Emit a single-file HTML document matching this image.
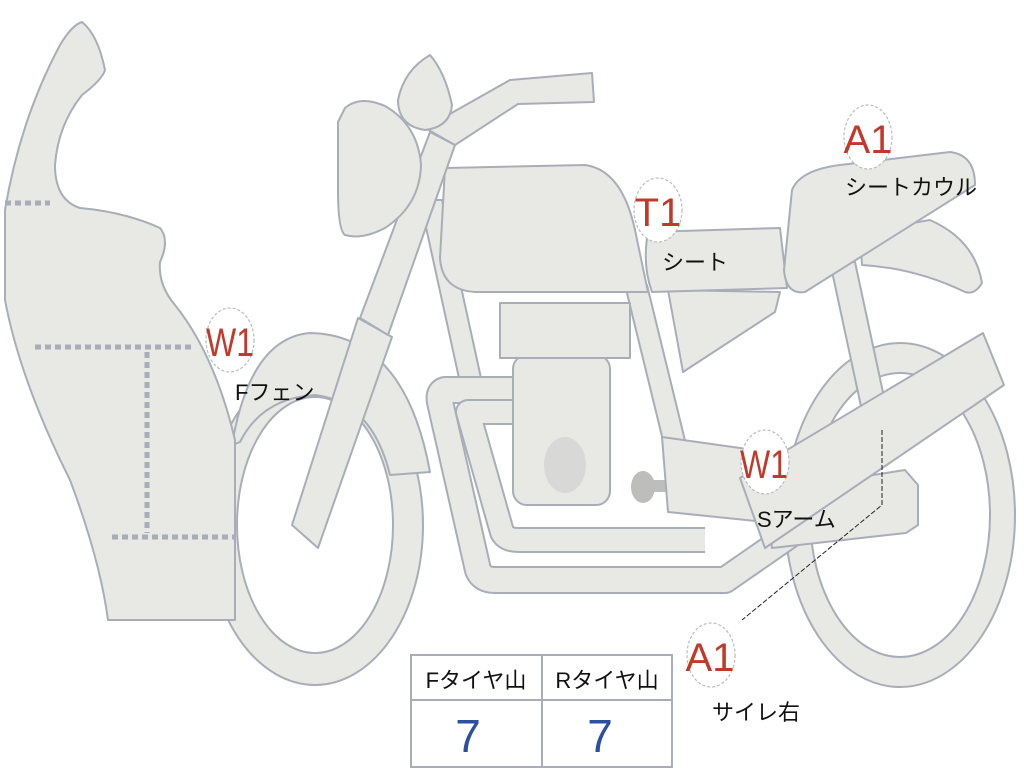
<!DOCTYPE html>
<html><head><meta charset="utf-8"><style>
html,body{margin:0;padding:0;background:#fff;width:1024px;height:768px;overflow:hidden}
svg{display:block}
.s{fill:#e8e8e4;stroke:#a9adb8;stroke-width:2;stroke-linejoin:round}
.lb{font-family:"Liberation Sans","Noto Sans CJK JP",sans-serif;font-size:22px;fill:#111}
.red{font-family:"Liberation Sans",sans-serif;font-size:40px;fill:#c0392b}
</style></head><body>
<svg width="1024" height="768" viewBox="0 0 1024 768">
<!-- wheels -->
<path class="s" fill-rule="evenodd" d="M207,525a108,160 0 1,0 216,0a108,160 0 1,0 -216,0Z M237,525a78,128 0 1,0 156,0a78,128 0 1,0 -156,0Z"/>
<path class="s" fill-rule="evenodd" d="M785,515a115,172 0 1,0 230,0a115,172 0 1,0 -230,0Z M810,515a90,142 0 1,0 180,0a90,142 0 1,0 -180,0Z"/>
<!-- front fender -->
<path class="s" d="M232,445 Q250,338 310,333 Q405,335 430,472 L390,475 Q372,402 315,395 Q262,398 240,442 Z"/>
<!-- fairing -->
<path class="s" d="M82,22 Q98,35 105,70 Q102,80 82,95 Q58,125 55,165 Q55,200 80,208 Q125,212 160,228 Q170,240 160,262 Q158,285 175,305 Q215,355 235,440 L235,620 L108,620 Q100,560 70,480 Q20,380 5,300 L5,210 Q20,120 60,45 Q72,25 82,22 Z"/>
<g stroke="#a9adb8" stroke-width="5" stroke-dasharray="6,4" fill="none">
<line x1="5" y1="203" x2="50" y2="203"/><line x1="35" y1="347" x2="192" y2="347"/>
<line x1="147" y1="352" x2="147" y2="533"/><line x1="112" y1="537" x2="235" y2="537"/>
</g>
<!-- frame tubes -->
<polygon class="s" points="420,200 442,200 488,410 466,410"/>
<polygon class="s" points="625,285 647,285 702,510 680,510"/>
<polygon class="s" points="830,262 855,262 890,425 865,425"/>
<!-- exhaust pipes -->
<path d="M520,390 L445,390 Q438,392 440,402 L478,570 Q482,580 495,580 L725,580 L800,528" fill="none" stroke="#a9adb8" stroke-width="28" stroke-linejoin="round"/>
<path d="M520,390 L445,390 Q438,392 440,402 L478,570 Q482,580 495,580 L725,580 L800,528" fill="none" stroke="#e8e8e4" stroke-width="24" stroke-linejoin="round"/>
<path d="M520,412 L468,412 L502,532 Q506,540 518,540 L705,540" fill="none" stroke="#a9adb8" stroke-width="26" stroke-linejoin="round"/>
<path d="M520,412 L468,412 L502,532 Q506,540 518,540 L705,540" fill="none" stroke="#e8e8e4" stroke-width="22" stroke-linejoin="round"/>
<!-- engine -->
<rect class="s" x="513" y="355" width="97" height="150" rx="14"/>
<rect class="s" x="500" y="303" width="130" height="55"/>
<ellipse cx="565" cy="465" rx="21" ry="28" fill="#d8d8d6"/>
<g fill="#bdbdbb"><rect x="640" y="480" width="50" height="12"/><ellipse cx="643" cy="487" rx="12" ry="16"/><ellipse cx="692" cy="485" rx="12" ry="16"/></g>
<!-- swing arm -->
<polygon class="s" points="662,437 790,455 795,525 668,512"/>
<!-- gas tank -->
<path class="s" d="M445,168 L585,165 Q622,170 635,230 L648,292 L475,292 Q442,290 440,258 Z"/>
<!-- fork -->
<polygon class="s" points="292,525 318,548 392,337 358,318"/>
<polygon class="s" points="360,318 388,335 455,145 430,132"/>
<!-- handlebar -->
<polygon class="s" points="425,128 510,80 592,73 594,102 518,104 455,145"/>
<!-- headlight -->
<path class="s" d="M345,108 Q360,95 385,106 Q418,125 421,165 Q420,205 385,228 Q362,240 345,235 Q338,230 338,190 L338,122 Z"/>
<path class="s" d="M430,55 Q445,72 452,105 Q450,127 425,130 Q398,126 398,100 Q404,70 430,55 Z"/>
<!-- seat + side cover -->
<polygon class="s" points="668,290 780,292 775,312 683,372"/>
<path class="s" d="M648,232 L780,228 L787,288 L652,292 Q642,265 648,232 Z"/>
<!-- tail -->
<path class="s" d="M860,232 L930,220 Q975,240 982,283 Q975,295 965,292 Q915,268 862,265 Z"/>
<path class="s" d="M792,190 Q800,170 840,165 L950,152 Q975,155 975,185 L805,292 Q786,295 784,270 Z"/>
<!-- muffler -->
<polygon class="s" points="765,492 905,470 918,485 918,525 906,533 772,548"/>
<polygon class="s" points="740,478 983,333 1004,385 765,548"/>
<!-- leader line -->
<polyline points="882,430 882,505 742,620" fill="none" stroke="#222" stroke-width="1" stroke-dasharray="5,2"/>
<!-- badges -->
<g fill="#fff" stroke="#bbb" stroke-width="1.2" stroke-dasharray="3,2">
<ellipse cx="230" cy="340" rx="24" ry="32"/><ellipse cx="658" cy="210" rx="24" ry="32"/>
<ellipse cx="868" cy="137" rx="24" ry="32"/><ellipse cx="765" cy="462" rx="24" ry="32"/>
<ellipse cx="711" cy="655" rx="24" ry="32"/>
</g>
<g class="red" text-anchor="middle">
<text x="230" y="356" textLength="48" lengthAdjust="spacingAndGlyphs">W1</text>
<text x="658" y="226">T1</text>
<text x="868" y="153">A1</text>
<text x="764" y="478" textLength="48" lengthAdjust="spacingAndGlyphs">W1</text>
<text x="710" y="671">A1</text>
</g>
<text class="lb" x="235" y="400">Fフェン</text>
<text class="lb" x="662" y="270">シート</text>
<text class="lb" x="845" y="195">シートカウル</text>
<text class="lb" x="757" y="527">Sアーム</text>
<text class="lb" x="712" y="720">サイレ右</text>
<!-- table -->
<g fill="none" stroke="#a9adb8" stroke-width="2">
<rect x="411" y="655" width="261" height="112"/>
<line x1="411" y1="700" x2="672" y2="700"/><line x1="542" y1="655" x2="542" y2="767"/>
</g>
<text class="lb" x="476" y="688" text-anchor="middle">Fタイヤ山</text>
<text class="lb" x="607" y="688" text-anchor="middle">Rタイヤ山</text>
<g font-family="Liberation Sans,sans-serif" font-size="46" fill="#2c4fa0" text-anchor="middle">
<text x="468" y="752">7</text><text x="600" y="752">7</text>
</g>
</svg>
</body></html>
